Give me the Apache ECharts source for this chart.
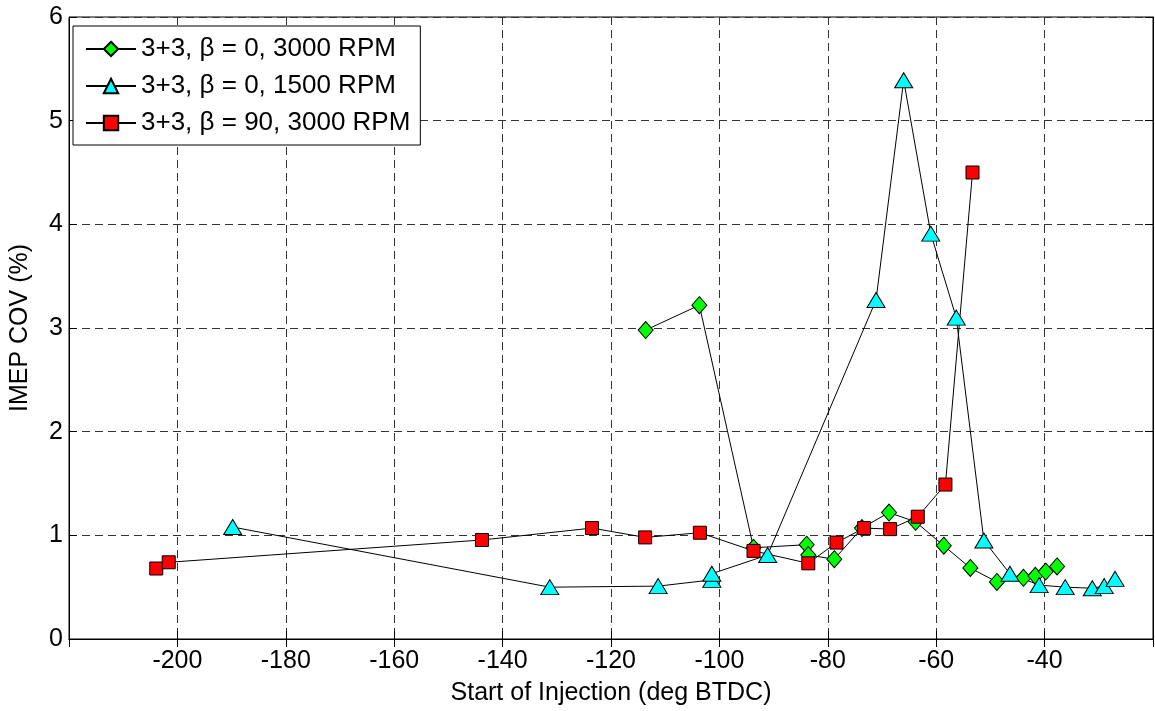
<!DOCTYPE html>
<html>
<head>
<meta charset="utf-8">
<script src="https://cdn.jsdelivr.net/npm/echarts@6/dist/echarts.min.js"></script>
<style>
html,body{margin:0;padding:0;background:#fff;}
#chart{width:1155px;height:711px;}
</style>
</head>
<body>
<div id="chart"></div>
<script>
// Series names
const seriesNames = ['3+3, \u03B2 = 0, 3000 RPM', '3+3, \u03B2 = 0, 1500 RPM', '3+3, \u03B2 = 90, 3000 RPM'];

// β = 0, 3000 RPM (green diamonds)
const greenX = [-113.6, -103.7, -93.7, -83.9, -83.6, -78.8, -73.7, -68.7, -63.8, -58.6, -53.7, -48.8, -43.9, -41.7, -39.8, -37.7];
const greenY = [2.98, 3.22, 0.88, 0.91, 0.81, 0.77, 1.07, 1.22, 1.13, 0.90, 0.685, 0.55, 0.59, 0.61, 0.65, 0.70];

// β = 0, 1500 RPM (cyan triangles)
const cyanX = [-189.8, -131.3, -111.3, -101.4, -101.4, -91.1, -71.1, -66.0, -61.0, -56.3, -51.2, -46.4, -41.0, -36.2, -31.2, -29.0, -27.0];
const cyanY = [1.08, 0.50, 0.51, 0.57, 0.63, 0.81, 3.27, 5.39, 3.91, 3.10, 0.95, 0.63, 0.52, 0.50, 0.49, 0.51, 0.58];

// β = 90, 3000 RPM (red squares)
const redX = [-203.9, -201.6, -143.8, -123.5, -113.7, -103.6, -93.7, -83.6, -78.4, -73.3, -68.5, -63.4, -58.3, -53.3];
const redY = [0.68, 0.74, 0.955, 1.07, 0.98, 1.025, 0.85, 0.73, 0.93, 1.07, 1.06, 1.18, 1.49, 4.50];

// Axis settings
const xMin = -220, xMax = -20, xStep = 20;
const yMin = 0, yMax = 6, yStep = 1;
const xTitle = 'Start of Injection (deg BTDC)';
const yTitle = 'IMEP COV (%)';

const pair = (xs, ys) => xs.map((x, i) => [x, ys[i]]);
const FONT = '"Liberation Sans", Arial, Helvetica, sans-serif';

const chart = echarts.init(document.getElementById('chart'), null, {renderer: 'canvas'});

const gridLine = {show: true, lineStyle: {color: '#333', type: [8, 5], width: 1}};

function lineSeries(name, data, symbol, color, size) {
  return {
    name: name,
    type: 'line',
    data: data,
    symbol: symbol,
    symbolSize: size,
    showAllSymbol: true,
    lineStyle: {color: '#000', width: 1},
    itemStyle: {color: color, borderColor: '#000', borderWidth: 1},
    emphasis: {disabled: true},
    animation: false
  };
}

chart.setOption({
  animation: false,
  backgroundColor: '#fff',
  textStyle: {fontFamily: FONT},
  grid: {left: 65, right: 2, top: 17, bottom: 68, show: true, borderColor: '#000', borderWidth: 1, backgroundColor: 'transparent'},
  legend: {
    show: true,
    left: 73, top: 26,
    orient: 'vertical',
    backgroundColor: '#fff',
    borderColor: '#000',
    borderWidth: 1,
    borderRadius: 0,
    padding: [10, 10, 9, 12],
    itemGap: 11,
    itemWidth: 50,
    itemHeight: 18,
    textStyle: {fontFamily: FONT, fontSize: 26, color: '#000'},
    data: seriesNames
  },
  xAxis: [{
    type: 'value', min: xMin, max: xMax, interval: xStep,
    position: 'bottom',
    name: xTitle, nameLocation: 'middle', nameGap: 42,
    nameTextStyle: {fontFamily: FONT, fontSize: 25, color: '#000'},
    axisLine: {show: true, lineStyle: {color: '#000', width: 1}},
    axisTick: {show: true, inside: true, length: 8, lineStyle: {color: '#000'}},
    axisLabel: {fontFamily: FONT, fontSize: 25, color: '#000', margin: 10, showMinLabel: false, showMaxLabel: false},
    splitLine: gridLine
  }, {
    type: 'value', min: xMin, max: xMax, interval: xStep,
    position: 'top',
    axisLine: {show: true, lineStyle: {color: '#000', width: 1}},
    axisTick: {show: true, inside: true, length: 8, lineStyle: {color: '#000'}},
    axisLabel: {show: false},
    splitLine: {show: false}
  }],
  yAxis: [{
    type: 'value', min: yMin, max: yMax, interval: yStep,
    position: 'left',
    name: yTitle, nameLocation: 'middle', nameGap: 36, nameRotate: 90,
    nameTextStyle: {fontFamily: FONT, fontSize: 25, color: '#000'},
    axisLine: {show: true, lineStyle: {color: '#000', width: 1}},
    axisTick: {show: true, inside: true, length: 8, lineStyle: {color: '#000'}},
    axisLabel: {fontFamily: FONT, fontSize: 25, color: '#000', margin: 6},
    splitLine: gridLine
  }, {
    type: 'value', min: yMin, max: yMax, interval: yStep,
    position: 'right',
    axisLine: {show: true, lineStyle: {color: '#000', width: 1}},
    axisTick: {show: true, inside: true, length: 8, lineStyle: {color: '#000'}},
    axisLabel: {show: false},
    splitLine: {show: false}
  }],
  series: [
    lineSeries(seriesNames[0], pair(greenX, greenY), 'diamond', '#00ff00', [15, 17]),
    lineSeries(seriesNames[1], pair(cyanX, cyanY), 'triangle', '#00ffff', [18, 15]),
    lineSeries(seriesNames[2], pair(redX, redY), 'rect', '#ff0000', 13)
  ]
});
</script>
</body>
</html>
